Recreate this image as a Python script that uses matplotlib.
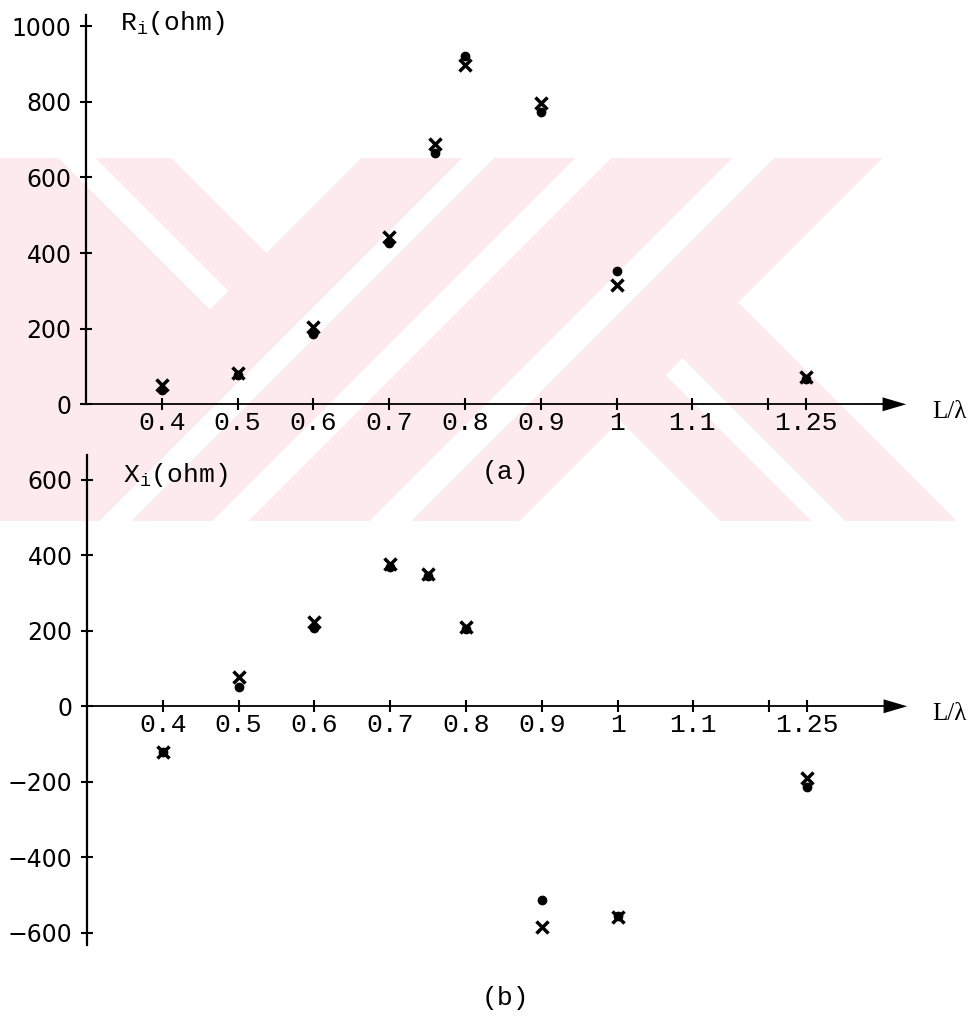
import matplotlib
matplotlib.use("Agg")
import matplotlib.pyplot as plt
import numpy as np

# measured values (two series per panel: dots and crosses)
r_x = [0.4, 0.5, 0.6, 0.7, 0.76, 0.8, 0.9, 1.0, 1.25]
r_dot = [38, 77, 186, 426, 664, 922, 774, 353, 68]
r_cross = [52, 82, 205, 442, 688, 896, 797, 316, 72]

x_x = [0.4, 0.5, 0.6, 0.7, 0.75, 0.8, 0.9, 1.0, 1.25]
x_dot = [-120, 52, 207, 368, 345, 205, -514, -556, -215]
x_cross = [-122, 77, 222, 376, 349, 210, -584, -558, -190]

xticks = [0.4, 0.5, 0.6, 0.7, 0.8, 0.9, 1.0, 1.1, 1.2, 1.25]
xtick_labels = ['0.4', '0.5', '0.6', '0.7', '0.8', '0.9', '1', '1.1', '', '1.25']
r_yticks = [0, 200, 400, 600, 800, 1000]
r_ytick_labels = ['0', '200', '400', '600', '800', '1000']
x_yticks = [-600, -400, -200, 0, 200, 400, 600]
x_ytick_labels = ['\u2212600', '\u2212400', '\u2212200', '0', '200', '400', '600']

W, H = 970, 1018
fig = plt.figure(figsize=(W / 100, H / 100), dpi=100)

# faint pink watermark behind the plots (diagonal bands)
yy, xx = np.mgrid[158:521, 0:W]
u = xx - yy
v = xx + yy
left_arm = (u <= 13) & (v < 520) & ~((u > -100) & (u < -62))
stem = (v >= 519) & (v <= 1039) & ~((v > 619) & (v < 652)) \
    & ~((v > 732) & (v < 769)) & ~((v > 889) & (v < 932))
low_arm = (v > 1039) & (u >= 200) & (u <= 435) & ~((u > 290) & (u < 325))
mask = left_arm | stem | low_arm
wm = np.zeros(mask.shape + (4,))
wm[mask] = (253 / 255, 234 / 255, 238 / 255, 1.0)
fig.figimage(wm, xo=0, yo=H - 521, origin='upper', zorder=-1)


def px_axes(left, top, right, bottom):
    return fig.add_axes([left / W, 1 - bottom / H, (right - left) / W, (bottom - top) / H])


def style(ax, ylo, yhi, yticks, ylabels):
    ax.set_facecolor('none')
    for s in ['top', 'right']:
        ax.spines[s].set_visible(False)
    ax.spines['left'].set_linewidth(1.6)
    ax.spines['left'].set_bounds(ylo, yhi)
    ax.spines['bottom'].set_position(('data', 0))
    ax.spines['bottom'].set_bounds(0.3, 1.36)
    ax.spines['bottom'].set_linewidth(1.3)
    ax.annotate('', xy=(1.382, 0), xytext=(1.33, 0),
                arrowprops=dict(facecolor='black', edgecolor='black', width=0.1,
                                headwidth=10, headlength=17, lw=0))
    ax.set_xticks(xticks)
    ax.set_xticklabels(xtick_labels, fontfamily='Liberation Mono', fontsize=19)
    ax.set_yticks(yticks)
    ax.set_yticklabels(ylabels, fontfamily='DejaVu Sans', fontsize=17)
    ax.tick_params(axis='x', direction='inout', length=9, width=1.5, pad=0)
    ax.tick_params(axis='y', direction='inout', length=9, width=1.5, pad=6)


def points(ax, xs, dots, crosses):
    ax.plot(xs, dots, linestyle='none', marker='o', ms=6, color='black')
    ax.plot(xs, crosses, linestyle='none', marker='x', ms=9, mew=2.5, color='black')


# (a) R_i
ax1 = px_axes(86, 11, 935, 427)
ax1.set_xlim(0.3, 1.42)
ax1.set_ylim(-60, 1040)
style(ax1, 0, 1030, r_yticks, r_ytick_labels)
points(ax1, r_x, r_dot, r_cross)

# (b) X_i
ax2 = px_axes(87, 457, 936, 948)
ax2.set_xlim(0.3, 1.42)
ax2.set_ylim(-640, 660)
style(ax2, -632, 664, x_yticks, x_ytick_labels)
points(ax2, x_x, x_dot, x_cross)

mono = 'Liberation Mono'
fig.text(120 / W, 1 - 30 / H, r'$\mathregular{R_i}$(ohm)', fontfamily=mono, fontsize=19)
fig.text(123 / W, 1 - 482 / H, r'$\mathregular{X_i}$(ohm)', fontfamily=mono, fontsize=19)
lam = ['Liberation Serif', 'DejaVu Serif']
fig.text(932 / W, 1 - 412 / H, 'L/λ', fontfamily=lam, fontsize=18, va='center')
fig.text(932 / W, 1 - 714 / H, 'L/λ', fontfamily=lam, fontsize=18, va='center')
fig.text(505 / W, 1 - 472 / H, '(a)', fontfamily=mono, fontsize=19, ha='center', va='center')
fig.text(505 / W, 1 - 998 / H, '(b)', fontfamily=mono, fontsize=19, ha='center', va='center')

fig.savefig('out.png', dpi=100)
